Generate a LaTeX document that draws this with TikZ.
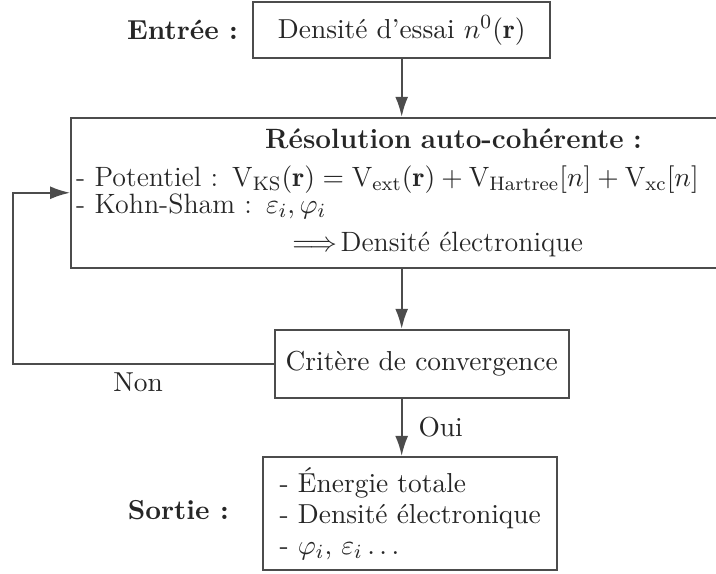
\documentclass[tikz,border=0pt]{standalone}
\usepackage{fontspec}
\usepackage{amsmath}
\usetikzlibrary{arrows.meta}

\begin{document}
\begin{tikzpicture}[
  every node/.style={font=\fontsize{10.9}{13.2}\selectfont, text=black!85},
  box/.style={draw=black!70, line width=0.8pt, fill=white},
  arr/.style={-{Latex[length=2.8mm,width=1.8mm]}, draw=black!70, line width=0.8pt}
]
\useasboundingbox (0,0) rectangle (10,8.003);
% entree
\node[font=\fontsize{10.9}{13.2}\selectfont\bfseries] (entree) at (2.55,7.58) {Entrée :};
\node[box, minimum width=4.15cm, minimum height=0.78cm] (essai) at (5.61,7.58) {Densité d'essai $n^0(\mathbf{r})$};
% boucle
\node[box, anchor=north west, text width=8.94cm, minimum height=2.09cm, inner xsep=2pt, align=left,
      font=\fontsize{11.1}{10.7}\selectfont] (resol) at (0.98,6.37) {%
\lineskiplimit=-10pt\lineskip=0pt\relax
\hspace*{2.64cm}\textbf{Résolution auto-cohérente :}\\[4.4pt]
- Potentiel : $\mathrm{V}_{\mathrm{KS}}(\mathbf{r}) = \mathrm{V}_{\mathrm{ext}}(\mathbf{r}) + \mathrm{V}_{\mathrm{Hartree}}[n] + \mathrm{V}_{\mathrm{xc}}[n]$\\
- Kohn-Sham : $\varepsilon_i, \varphi_i$\\[4.4pt]
\hspace*{3.02cm}$\Longrightarrow$\kern1.5pt Densité électronique};
\node[box, minimum width=4.11cm, minimum height=0.95cm] (critere) at (5.89,2.92) {Critère de convergence};
\coordinate (retour) at (0.18,2.92);
\node (non) at (1.93,2.66) {Non};
% sortie
\node[font=\fontsize{10.9}{13.2}\selectfont\bfseries] (sortielabel) at (2.49,0.88) {Sortie :};
\node[box, minimum width=4.11cm, minimum height=1.58cm, align=left, font=\fontsize{10.9}{12.2}\selectfont] (sortie) at (5.73,0.83) {%
- Énergie totale\\
- Densité électronique\\
- $\varphi_i$, $\varepsilon_i \ldots$};
% fleches
\draw[arr] (essai.south) -- (essai.south |- resol.north);
\draw[arr] (essai.south |- resol.south) -- (essai.south |- critere.north);
\draw[arr] (essai.south |- critere.south) -- node[right=3pt]{Oui} (essai.south |- sortie.north);
\draw[arr] (critere.west) -- (retour) |- (resol.west);
\end{tikzpicture}
\end{document}
